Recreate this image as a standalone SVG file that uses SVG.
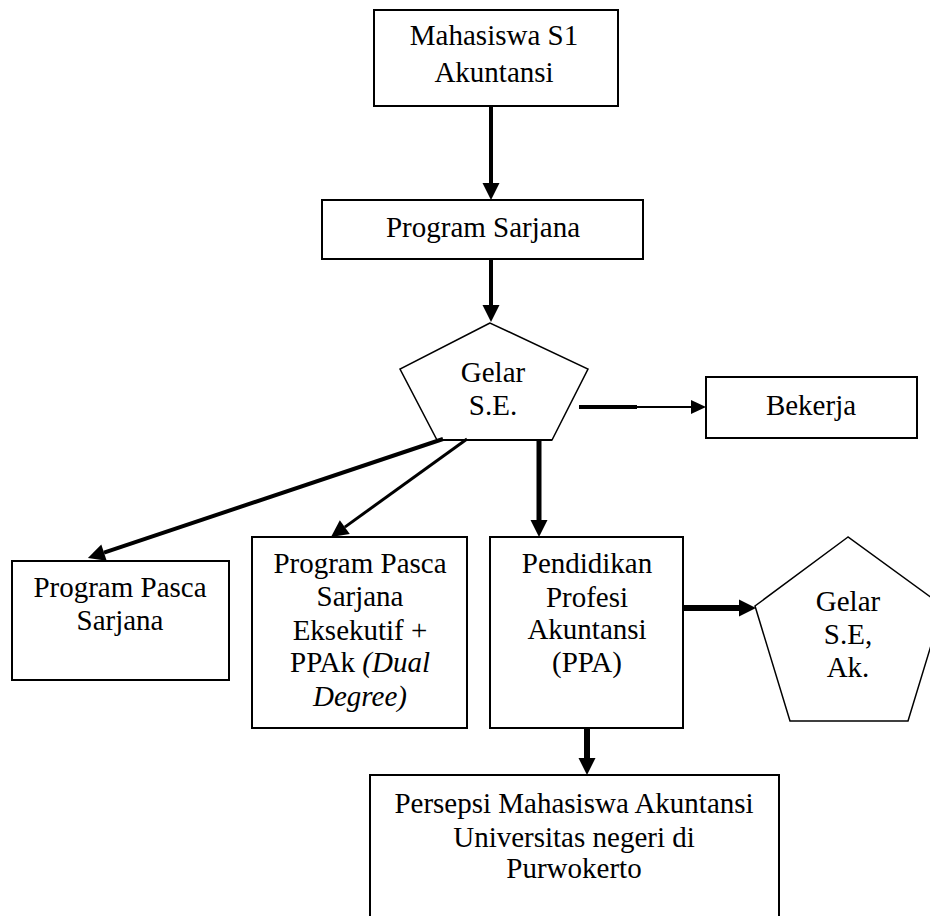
<svg xmlns="http://www.w3.org/2000/svg" width="930" height="916" viewBox="0 0 930 916">
<style>
.box{fill:#fff;stroke:#000;stroke-width:2}
.pent{fill:#fff;stroke:#000;stroke-width:1.5}
.t{font-family:"Liberation Serif","Times New Roman",serif;font-size:29px;fill:#000;text-anchor:middle}
.c{stroke:#000;fill:none;stroke-linecap:butt}
</style>
<defs>
<marker id="ah" markerUnits="userSpaceOnUse" markerWidth="18" markerHeight="18" viewBox="0 -9 18 18" refX="0" refY="0" orient="auto" overflow="visible">
<path d="M0,-8.5 L17,0 L0,8.5 Z" fill="#000"/>
</marker>
<marker id="ahs" markerUnits="userSpaceOnUse" markerWidth="16" markerHeight="16" viewBox="0 -8 16 16" refX="0" refY="0" orient="auto" overflow="visible">
<path d="M0,-7 L15,0 L0,7 Z" fill="#000"/>
</marker>
</defs>
<rect width="930" height="916" fill="#fff"/>

<g id="n1">
<rect class="box" x="374" y="10" width="244" height="96"/>
<text class="t" x="494" y="45">Mahasiswa S1</text>
<text class="t" x="494" y="82">Akuntansi</text>
</g>
<g id="n2">
<rect class="box" x="322" y="200" width="321" height="59"/>
<text class="t" x="483" y="237">Program Sarjana</text>
</g>
<g id="n3">
<polygon class="pent" points="490,323 400,369 437,440 552,440 588,369"/>
<line x1="437" y1="440" x2="552" y2="440" stroke="#000" stroke-width="2"/>
<text class="t" x="493" y="382">Gelar</text>
<text class="t" x="493" y="415">S.E.</text>
</g>
<g id="n4">
<rect class="box" x="706" y="377" width="211" height="61"/>
<text class="t" x="811" y="415">Bekerja</text>
</g>
<g id="n5">
<rect class="box" x="12" y="561" width="217" height="119"/>
<text class="t" x="120" y="597">Program Pasca</text>
<text class="t" x="120" y="630">Sarjana</text>
</g>
<g id="n6">
<rect class="box" x="252" y="537" width="215" height="191"/>
<text class="t" x="360" y="573">Program Pasca</text>
<text class="t" x="360" y="606">Sarjana</text>
<text class="t" x="360" y="640">Eksekutif +</text>
<text class="t" x="360" y="672">PPAk <tspan font-style="italic">(Dual</tspan></text>
<text class="t" x="360" y="706" font-style="italic">Degree)</text>
</g>
<g id="n7">
<rect class="box" x="490" y="537" width="193" height="191"/>
<text class="t" x="587" y="573">Pendidikan</text>
<text class="t" x="587" y="607">Profesi</text>
<text class="t" x="587" y="639">Akuntansi</text>
<text class="t" x="587" y="672">(PPA)</text>
</g>
<g id="n8">
<polygon class="pent" points="848,537 755,606 790,721 908,721 943,606"/>
<text class="t" x="848" y="611">Gelar</text>
<text class="t" x="848" y="644">S.E,</text>
<text class="t" x="848" y="677">Ak.</text>
</g>
<g id="n9">
<rect class="box" x="370" y="775" width="409" height="160"/>
<text class="t" x="574" y="813">Persepsi Mahasiswa Akuntansi</text>
<text class="t" x="574" y="847">Universitas negeri di</text>
<text class="t" x="574" y="878">Purwokerto</text>
</g>

<g id="connectors">
<line class="c" x1="491" y1="106" x2="491" y2="183" stroke-width="4" marker-end="url(#ah)"/>
<line class="c" x1="491" y1="259" x2="491" y2="305" stroke-width="4" marker-end="url(#ah)"/>
<line class="c" x1="579" y1="407" x2="637" y2="407" stroke-width="4"/>
<line class="c" x1="636" y1="407" x2="691" y2="407" stroke-width="2" marker-end="url(#ahs)"/>
<line class="c" x1="443" y1="439" x2="104" y2="552.6" stroke-width="4" marker-end="url(#ah)"/>
<line class="c" x1="467" y1="439" x2="344.8" y2="527.1" stroke-width="3" marker-end="url(#ah)"/>
<line class="c" x1="539" y1="440" x2="539" y2="520" stroke-width="5" marker-end="url(#ah)"/>
<line class="c" x1="683" y1="608" x2="739" y2="608" stroke-width="6" marker-end="url(#ah)"/>
<line class="c" x1="587" y1="728" x2="587" y2="758" stroke-width="6" marker-end="url(#ah)"/>
</g>
</svg>
